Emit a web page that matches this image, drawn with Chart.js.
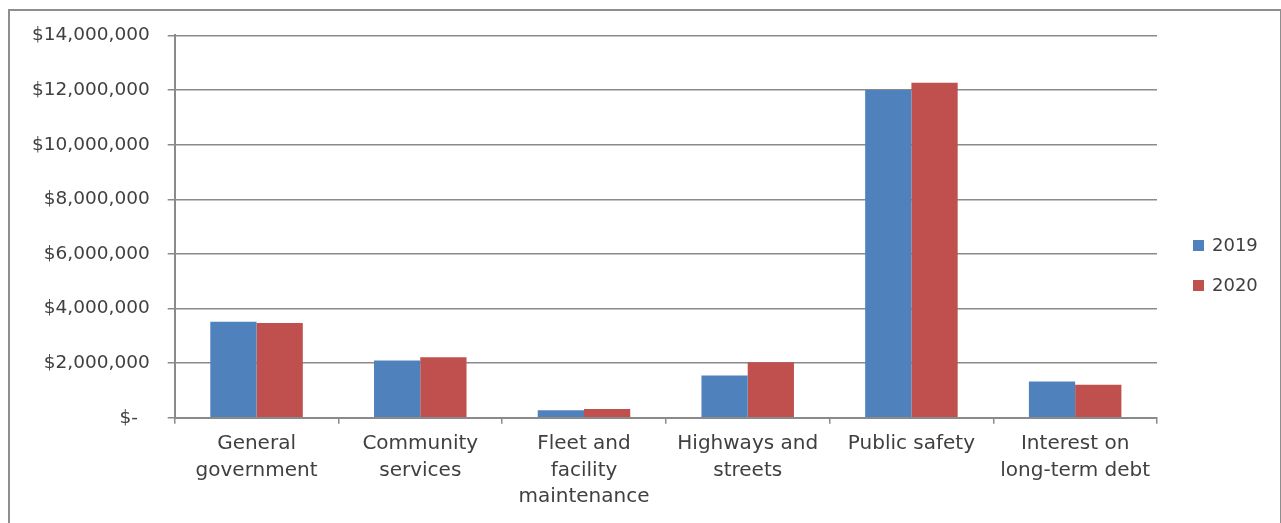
<!DOCTYPE html>
<html>
<head>
<meta charset="utf-8">
<script src="https://cdn.jsdelivr.net/npm/chart.js@4.4.1/dist/chart.umd.min.js"></script>
<style>
  html, body { margin: 0; padding: 0; background: #fff; }
  #cadre {
    position: absolute; left: 8px; top: 9px;
    width: 1270px; height: 520px;
    border: 2px solid #8e8e8e;
    background: #fff;
  }
  #graphique { display: block; }
</style>
</head>
<body>
<div id="cadre"><canvas id="graphique" width="1270" height="520"></canvas></div>
<script>
// expenses by function, two years
const categories = [
    ['General', 'government'],
    ['Community', 'services'],
    ['Fleet and', 'facility', 'maintenance'],
    ['Highways and', 'streets'],
    ['Public safety'],
    ['Interest on', 'long-term debt']
]
const annees = ['2019', '2020']
const depenses_2019 = [3520000, 2100000, 280000, 1550000, 12000000, 1330000]
const depenses_2020 = [3470000, 2220000, 320000, 2030000, 12270000, 1210000]
const y_max = 14000000
const y_pas = 2000000

const couleurs = ['#4F81BD', '#C0504D']
const gris = '#8a8a8a'
const texte = '#404040'
const police = 'DejaVu Sans'

// y ticks in accounting style: zero shows as "$-"
function format_dollars(value){
    if (value === 0) return '$-  '
    return '$' + value.toLocaleString('en-US')
}

// legend drawn on the right, small squares + year
const legende_droite = {
    id: 'legende_droite',
    afterDraw(chart){
        const ctx = chart.ctx
        const x = chart.chartArea.right + 36
        const centre = chart.height / 2 - 6
        ctx.save()
        ctx.font = `18px "${police}"`
        ctx.textBaseline = 'middle'
        chart.data.datasets.forEach((ds, i) => {
            const y = centre + (i - 0.5) * 40
            ctx.fillStyle = ds.backgroundColor
            ctx.fillRect(x, y - 5, 11, 11)
            ctx.fillStyle = texte
            ctx.fillText(ds.label, x + 19, y + 1)
        })
        ctx.restore()
    }
}

const config = {
    type: 'bar',
    data: {
        labels: categories,
        datasets: [{
            label: annees[0],
            data: depenses_2019,
            backgroundColor: couleurs[0],
            barPercentage: 1,
            categoryPercentage: 0.565
        },{
            label: annees[1],
            data: depenses_2020,
            backgroundColor: couleurs[1],
            barPercentage: 1,
            categoryPercentage: 0.565
        }]
    },
    options: {
        responsive: false,
        animation: false,
        layout: { padding: { top: 7, right: 123, bottom: 14, left: 4 } },
        plugins: {
            legend: { display: false },
            tooltip: { enabled: false }
        },
        scales: {
            x: {
                grid: {
                    drawOnChartArea: false,
                    drawTicks: true,
                    tickLength: 6,
                    color: gris,
                    lineWidth: 1.5
                },
                border: { display: true, color: gris, width: 2 },
                ticks: {
                    color: texte,
                    font: { family: police, size: 20, lineHeight: 1.32 },
                    padding: 7,
                    maxRotation: 0,
                    autoSkip: false
                }
            },
            y: {
                min: 0,
                max: y_max,
                grid: {
                    color: gris,
                    lineWidth: 1.5,
                    drawTicks: true,
                    tickLength: 7
                },
                border: { display: true, color: gris, width: 2 },
                ticks: {
                    stepSize: y_pas,
                    color: texte,
                    // short line height keeps the plot top close to the first label
                    font: { family: police, size: 18.5, lineHeight: 0.7 },
                    padding: 18,
                    autoSkip: false,
                    callback: format_dollars
                }
            }
        }
    },
    plugins: [legende_droite]
}

const chart = new Chart(document.querySelector('#graphique'), config)
</script>
</body>
</html>
